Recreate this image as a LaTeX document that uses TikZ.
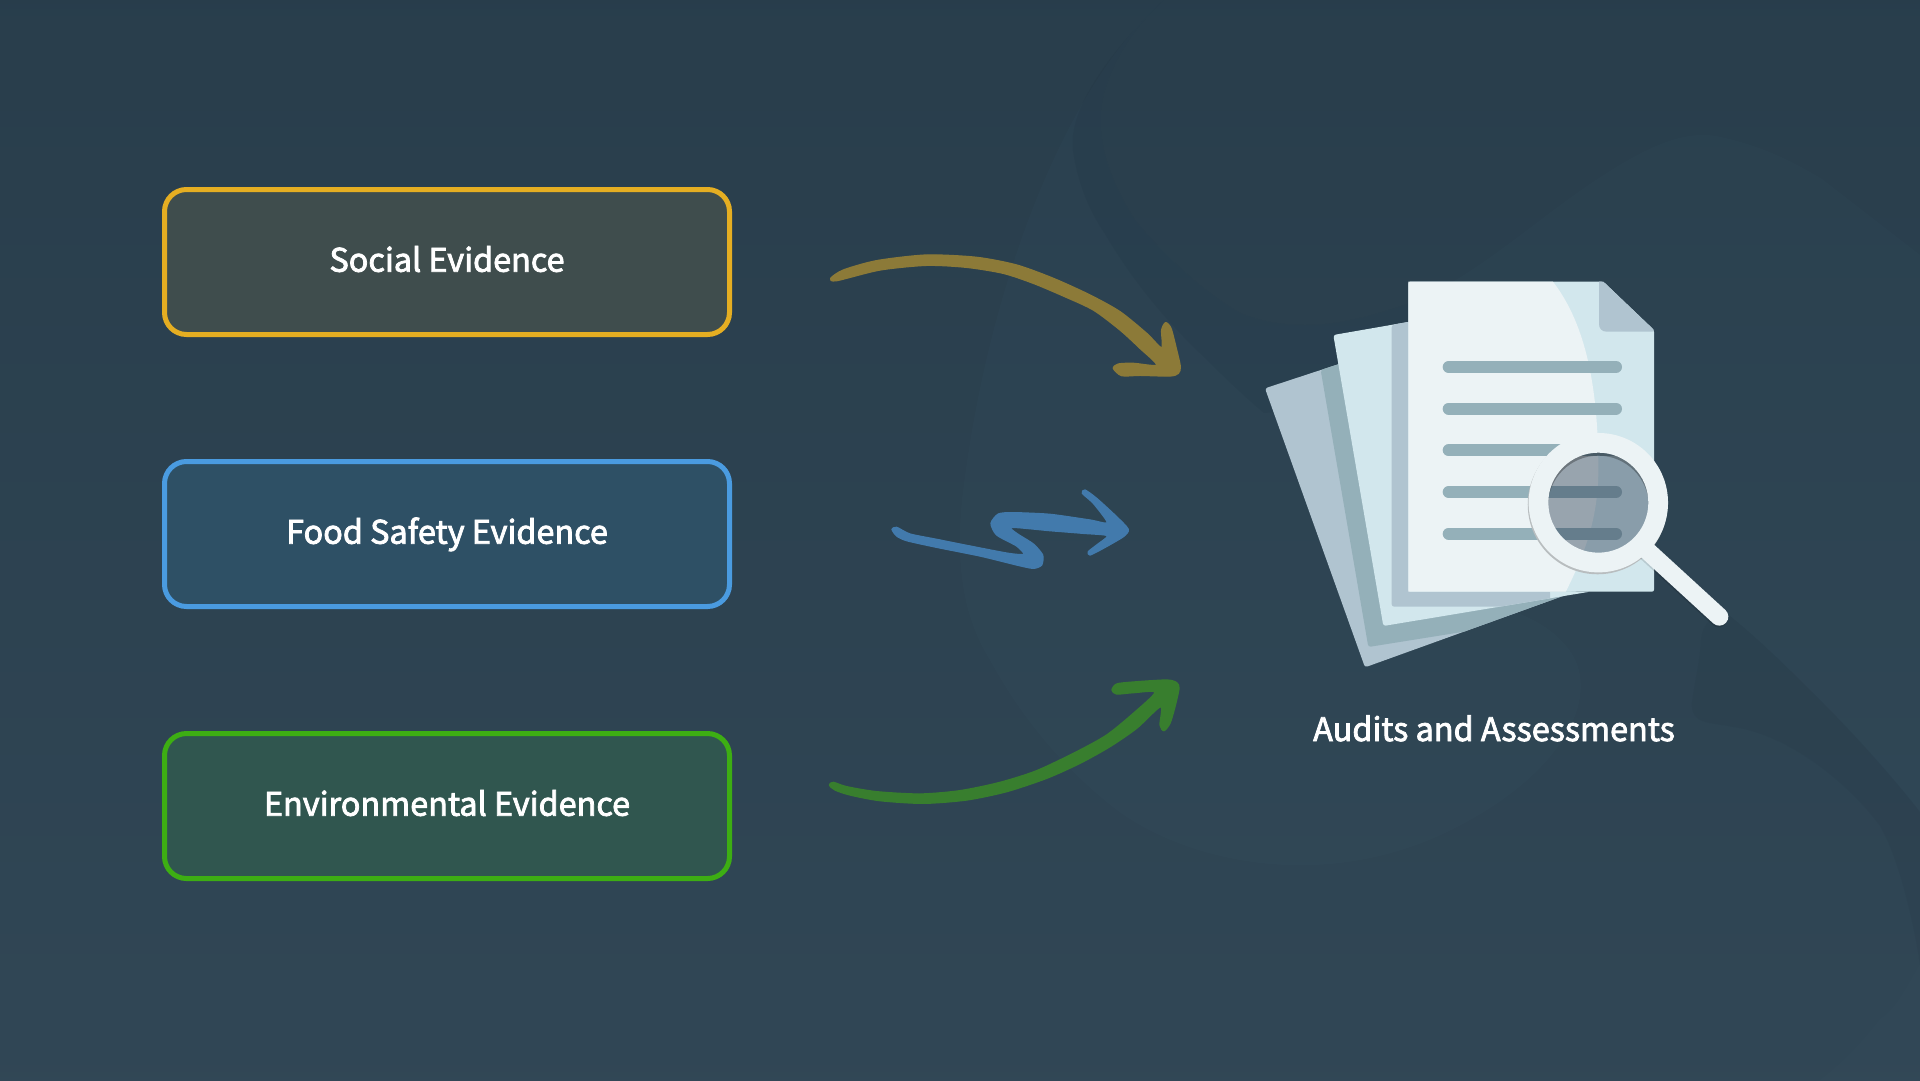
\documentclass[tikz,border=0pt]{standalone}
\usepackage{fontspec}
\newfontfamily\labfont[FakeBold=2.4]{Noto Sans CJK SC}
\usetikzlibrary{shadings}
\definecolor{pgA}{HTML}{ECF3F5}
\definecolor{pgB}{HTML}{D2E7ED}
\definecolor{pgC}{HTML}{B0C4D0}
\definecolor{pgD}{HTML}{94B0B9}
\definecolor{lensC}{HTML}{25384E}
\definecolor{goldA}{HTML}{8C7A38}
\definecolor{blueA}{HTML}{427AAC}
\definecolor{greenA}{HTML}{387E2E}
\definecolor{tealA}{HTML}{5C8CA4}
\definecolor{darkA}{HTML}{1A2C3A}
\tikzset{
  evbox/.style={rectangle,rounded corners=22pt,line width=5pt,minimum width=565pt,minimum height=145pt,inner sep=0pt},
  caption/.style={text=white,inner sep=0pt,anchor=base,font=\labfont\fontsize{32.4}{38}\selectfont},
  docline/.style={line width=12pt,line cap=round,draw=pgD},
  zoomA/.style={shift={(800,220)},x=0.33333pt,y=-0.33333pt},
  zoomB/.style={shift={(870,470)},x=0.33333pt,y=-0.33333pt},
  zoomC/.style={shift={(820,660)},x=0.33333pt,y=-0.33333pt},
  zoomD/.style={shift={(1250,270)},x=0.33333pt,y=-0.33333pt},
}
\begin{document}
\begin{tikzpicture}[x=1pt,y=-1pt]
\useasboundingbox (0,0) rectangle (1920,1080);
% background
\path[shade,shading angle=12,top color={rgb,255:red,40;green,61;blue,75},bottom color={rgb,255:red,49;green,71;blue,86}] (-50,-50) rectangle (1970,1130);
% large soft lobe
\fill[tealA,opacity=0.035] (1164,0) .. controls (1060,90) and (985,300) .. (962,500) .. controls (955,570) and (965,620) .. (990,660) .. controls (1020,715) and (1060,765) .. (1113,807) .. controls (1180,860) and (1330,900) .. (1470,820) .. controls (1560,770) and (1600,700) .. (1572,654) .. controls (1550,620) and (1510,610) .. (1481,600) -- (1420,420) -- (1410,303) .. controls (1375,315) and (1340,325) .. (1305,325) .. controls (1270,325) and (1245,316) .. (1235,310) .. controls (1195,285) and (1160,250) .. (1135,220) .. controls (1110,180) and (1098,145) .. (1101,110) .. controls (1104,75) and (1130,30) .. (1164,0) -- cycle;
% dark swoosh upper
\fill[darkA,opacity=0.12] (1164,0) .. controls (1100,60) and (1068,115) .. (1073,151) .. controls (1078,185) and (1090,212) .. (1105,234) .. controls (1135,285) and (1170,325) .. (1205,358) .. controls (1225,378) and (1245,397) .. (1264,413) -- (1420,400) -- (1410,303) .. controls (1375,315) and (1340,325) .. (1305,325) .. controls (1270,325) and (1245,316) .. (1235,310) .. controls (1195,285) and (1160,250) .. (1135,220) .. controls (1110,180) and (1098,145) .. (1101,110) .. controls (1104,75) and (1130,30) .. (1164,0) -- cycle;
% upper-right lighter lobe
\fill[tealA,opacity=0.03] (1410,303) .. controls (1470,280) and (1530,225) .. (1587,186) .. controls (1640,150) and (1680,130) .. (1716,136) .. controls (1760,145) and (1790,160) .. (1822,179) -- (1920,255) -- (1920,812) .. controls (1895,780) and (1860,740) .. (1822,702) .. controls (1790,670) and (1760,640) .. (1725,612) -- (1500,480) -- cycle;
% dark swoosh lower right
\fill[darkA,opacity=0.085] (1725,612) .. controls (1760,640) and (1790,670) .. (1822,702) .. controls (1860,740) and (1895,780) .. (1920,812) -- (1920,965) .. controls (1915,930) and (1900,860) .. (1880,826) .. controls (1850,785) and (1790,735) .. (1733,727) .. controls (1710,722) and (1690,725) .. (1692,702) .. controls (1695,680) and (1700,660) .. (1701,640) .. controls (1702,625) and (1712,615) .. (1725,612) -- cycle;
% bottom-right edge
\fill[tealA,opacity=0.025] (1920,964) .. controls (1905,990) and (1895,1010) .. (1880,1019) .. controls (1860,1045) and (1840,1065) .. (1820,1080) -- (1920,1080) -- cycle;

% evidence boxes
\node[evbox,draw={rgb,255:red,229;green,174;blue,34},fill={rgb,255:red,63;green,77;blue,77}] (social) at (447,262) {};
\node[evbox,draw={rgb,255:red,74;green,155;blue,224},fill={rgb,255:red,46;green,80;blue,101}] (food) at (447,534) {};
\node[evbox,draw={rgb,255:red,61;green,174;blue,19},fill={rgb,255:red,48;green,86;blue,79}] (env) at (447,806) {};
\node[caption] (socialtxt) at (447,271.7) {Social Evidence};
\node[caption] (foodtxt) at (447,543.7) {Food Safety Evidence};
\node[caption] (envtxt) at (447,815.7) {Environmental Evidence};

% brush arrows
\begin{scope}[zoomA]
\filldraw[goldA,line width=1.3pt,line join=round] plot[smooth cycle,tension=0.45] coordinates {(92,175)(130,150)(230,122)(380,105)(530,112)(650,135)(760,175)(870,225)(960,275)(1040,340)(1085,383)(1085,330)(1097,308)(1113,325)(1130,390)(1141,440)(1135,460)(1110,468)(1020,466)(965,467)(940,445)(955,432)(1000,430)(1070,435)(1020,385)(960,330)(880,270)(790,228)(700,190)(610,160)(500,142)(380,136)(240,150)(110,182)};
\end{scope}
\begin{scope}[zoomB]
\filldraw[blueA,line width=1.3pt,line join=round] plot[smooth cycle,tension=0.4] coordinates {(66,178)(80,172)(120,192)(200,208)(300,228)(415,250)(462,253)(440,228)(380,195)(363,160)(385,132)(430,128)(540,133)(660,150)(712,158)(670,100)(637,70)(645,60)(680,85)(740,140)(775,178)(760,200)(700,235)(660,255)(655,245)(680,225)(712,197)(640,190)(540,182)(425,172)(440,190)(490,222)(518,255)(515,285)(490,295)(440,285)(330,258)(200,232)(110,212)(80,198)};
\end{scope}
\begin{scope}[zoomC]
\filldraw[greenA,line width=1.3pt,line join=round] plot[smooth cycle,tension=0.45] coordinates {(28,375)(40,367)(80,380)(170,395)(300,402)(420,392)(540,367)(650,332)(770,275)(860,225)(940,160)(1005,97)(940,98)(890,102)(876,90)(890,72)(940,66)(1040,60)(1070,68)(1077,85)(1065,140)(1050,190)(1032,212)(1020,195)(1022,140)(950,205)(870,260)(780,310)(680,355)(560,395)(440,420)(310,430)(180,422)(90,405)(45,390)};
\end{scope}

% document icon
\begin{scope}[zoomD]
\def\backpaper{(45,355) -- (480,212) -- (1030,945) -- (345,1192) -- cycle}
\fill[pgC,rounded corners=2.5pt] \backpaper;
\begin{scope}
\clip \backpaper;
\fill[pgD,rounded corners=2.5pt] (212,300) -- (300,272) -- (500,800) -- (1030,900) -- (1030,1023) -- (355,1131) -- cycle;
\end{scope}
\def\midpaper{(250,195) -- (480,155) -- (480,960) -- (1020,965) -- (400,1068) -- cycle}
\fill[pgB,rounded corners=2.5pt] \midpaper;
\begin{scope}
\clip \midpaper;
\fill[pgC,rounded corners=2.5pt] (425,165) -- (490,150) -- (490,960) -- (900,960) -- (900,1010) -- (425,1010) -- cycle;
\end{scope}
\def\frontpage{(475,35) -- (1060,35) -- (1212,180) -- (1212,965) -- (475,965) -- cycle}
\fill[pgB,rounded corners=2pt] \frontpage;
\begin{scope}
\clip \frontpage;
\fill[pgA] (470,30) -- (905,30) .. controls (1000,150) and (1045,330) .. (1045,600) .. controls (1045,750) and (1000,860) .. (945,970) -- (470,970) -- cycle;
\end{scope}
\fill[pgC] (1047,35) -- (1060,35) -- (1212,180) -- (1207,185) -- (1070,185) .. controls (1055,185) and (1047,175) .. (1047,162) -- cycle;
\draw[docline] (596,291) -- (1098,291);
\draw[docline] (596,416) -- (1098,416);
\draw[docline] (596,541) -- (1098,541);
\draw[docline] (596,666) -- (1098,666);
\draw[docline] (596,791) -- (1098,791);
% lens
\coordinate (mag) at (1045,698);
\fill[lensC,opacity=0.42] (mag) circle[radius=52pt];
\begin{scope}
\clip (mag) circle[radius=50.5pt];
\fill[black,opacity=0.28,even odd rule] (mag) circle[radius=60pt] ([yshift=-3.5pt]mag) circle[radius=50.5pt];
\end{scope}
% ring shadow
\fill[black!22!pgA,even odd rule] ([xshift=-0.8pt,yshift=-1.8pt]mag) circle[radius=69.8pt] (mag) circle[radius=55pt];
% handle
\draw[black,opacity=0.12,line width=18pt,line cap=round] (1192,842) ++(-2,5) -- (1406,1045);
\draw[pgA,line width=18pt,line cap=round] (1192,842) -- (1408,1040);
% ring
\fill[pgA,even odd rule] (mag) circle[radius=69.7pt] (mag) circle[radius=50pt];
\end{scope}
\node[caption] (audit) at (1494,741) {Audits and Assessments};
\end{tikzpicture}
\end{document}
